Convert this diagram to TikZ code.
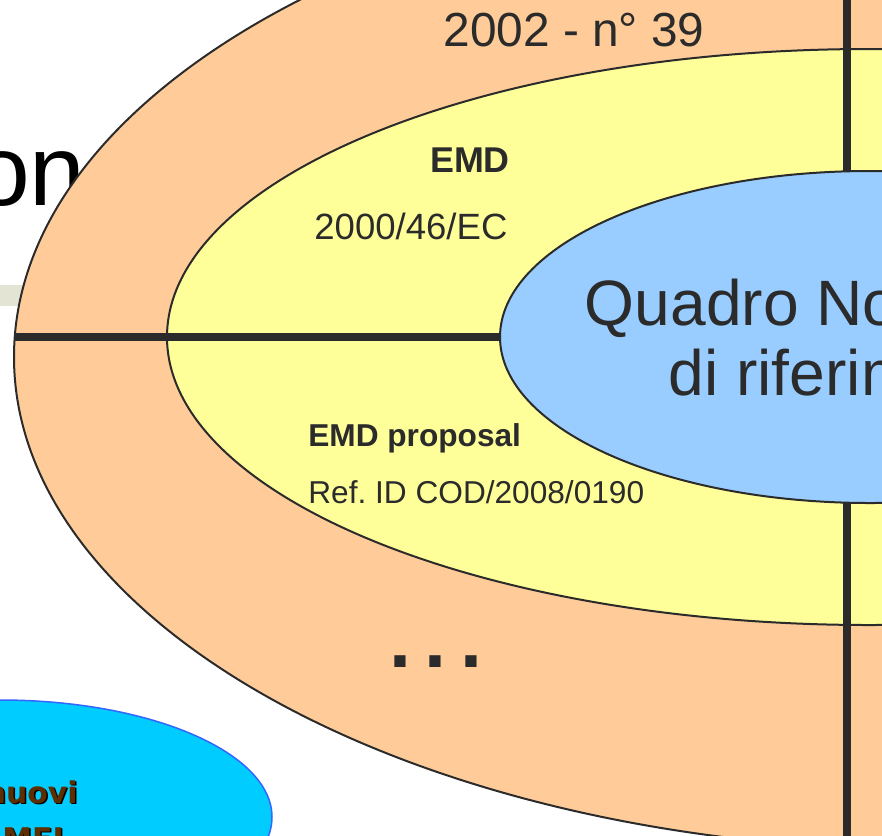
\documentclass[tikz,border=0pt]{standalone}
\usepackage{fontspec}
\setmainfont{Liberation Sans}
\newfontfamily\badgefont{DejaVu Sans}
\frenchspacing
\definecolor{ringpeach}{HTML}{FFCC99}
\definecolor{ringyellow}{HTML}{FFFF99}
\definecolor{corelblue}{HTML}{99CCFF}
\definecolor{badgecyan}{HTML}{00CCFF}
\definecolor{badgeedge}{HTML}{3366FF}
\definecolor{inkgray}{HTML}{2B2B2B}
\definecolor{barbeige}{HTML}{E4E4D4}
\definecolor{badgebrown}{HTML}{5C2E00}

\begin{document}
\begin{tikzpicture}[
		x=0.2mm, y=-0.2mm, % one unit = one pixel of the slide
		line join=round,
		ring/.style={draw=inkgray, line width=0.4mm},
		axisline/.style={draw=inkgray, line width=1.6mm},
		ringtext/.style={text=inkgray, inner sep=0pt},
		badgetext/.style={anchor=base east, inner sep=0pt, font=\badgefont\bfseries\fontsize{17}{20}\selectfont}
		]
		
		% --- 1. Frame ---
		\useasboundingbox (0,0) rectangle (882,835);
		\clip (0,0) rectangle (882,835);
		
		% --- 2. Slide background (title and bar) ---
		\node[anchor=base east, inner sep=0pt, font=\fontsize{57}{60}\selectfont] (title) at (86,205) {on};
		\fill[barbeige] (0,285) rectangle (60,306);
		
		% --- 3. Rings ---
		\filldraw[ring, fill=ringpeach] (934,357) ellipse [x radius=920, y radius=493];
		\filldraw[ring, fill=ringyellow] (869,337) ellipse [x radius=702, y radius=288];
		
		% --- 4. Axes ---
		\draw[axisline] (15,337) -- (870,337);
		\draw[axisline] (847,-10) -- (847,845);
		
		% --- 5. Core ---
		\filldraw[ring, fill=corelblue] (870,337) ellipse [x radius=370, y radius=166];
		
		% --- 6. Labels ---
		\node[ringtext, anchor=base, font=\fontsize{27.2}{30}\selectfont] (law) at (574,46) {2002 - n° 39};
		\node[ringtext, anchor=base, font=\bfseries\fontsize{20.4}{24}\selectfont] (emd) at (470,172) {EMD};
		\node[ringtext, anchor=base west, font=\fontsize{20.8}{24}\selectfont] (emdref) at (314,239) {2000/46/EC};
		\node[ringtext, anchor=base west, font=\bfseries\fontsize{18}{22}\selectfont] (prop) at (308,446) {EMD proposal};
		\node[ringtext, anchor=base west, font=\fontsize{18}{22}\selectfont] (propref) at (308,503) {Ref. ID COD/2008/0190};
		\node[ringtext, anchor=base, font=\fontsize{36.5}{40}\selectfont] (core1) at (847,325) {Quadro Normativo};
		\node[ringtext, anchor=base, font=\fontsize{36.5}{40}\selectfont] (core2) at (854,395) {di riferimento};
		\node[ringtext, anchor=base, font=\bfseries\fontsize{45}{48}\selectfont] (more) at (436,667) {.\kern2.7mm.\kern2.7mm.};
		
		% --- 7. Badge ---
		\filldraw[draw=badgeedge, line width=0.3mm, fill=badgecyan] (0,817) ellipse [x radius=272, y radius=117];
		\foreach \txt/\yb [count=\i] in {nuovi/803, MEL/849} {
			\node[badgetext, text=black] (shade\i) at (79.5-\i*6+6,\yb+1.5) {\txt};
			\node[badgetext, text=badgebrown] (badge\i) at (78-\i*6+6,\yb) {\txt};
		}
		
	\end{tikzpicture}
\end{document}
